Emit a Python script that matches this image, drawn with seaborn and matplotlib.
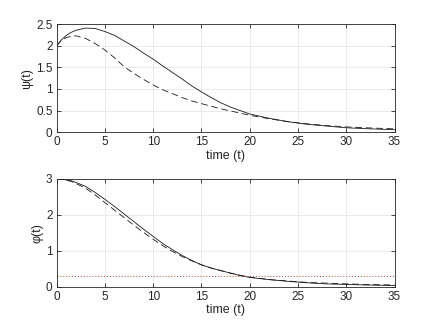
import pandas as pd
import matplotlib.pyplot as plt
import seaborn as sns

sns.set_theme(style='ticks')
plt.rcParams['font.family'] = ['Liberation Sans', 'DejaVu Sans']

# time samples
t = [0, 0.5, 1, 1.5, 2, 3, 4, 5, 6, 7, 8, 9, 10, 11, 12, 13, 14, 15,
     16, 17, 18, 19, 20, 22, 24, 26, 28, 30, 32, 35]

# psi(t): solid and dashed curves
psi_solid = [2.00, 2.14, 2.24, 2.31, 2.36, 2.41, 2.40, 2.33, 2.24, 2.11,
             1.98, 1.83, 1.69, 1.53, 1.38, 1.23, 1.07, 0.93, 0.80, 0.68,
             0.58, 0.50, 0.42, 0.32, 0.24, 0.18, 0.14, 0.10, 0.08, 0.055]
psi_dashed = [2.00, 2.13, 2.19, 2.22, 2.23, 2.17, 2.05, 1.90, 1.72, 1.51,
              1.36, 1.22, 1.09, 0.98, 0.89, 0.80, 0.72, 0.66, 0.60, 0.54,
              0.49, 0.44, 0.39, 0.31, 0.24, 0.19, 0.15, 0.12, 0.10, 0.075]

# phi(t): solid and dashed curves
phi_solid = [3.00, 2.99, 2.97, 2.95, 2.90, 2.79, 2.62, 2.43, 2.23, 2.02,
             1.81, 1.60, 1.40, 1.20, 1.03, 0.87, 0.73, 0.61, 0.52, 0.45,
             0.38, 0.31, 0.26, 0.20, 0.15, 0.11, 0.08, 0.065, 0.05, 0.035]
phi_dashed = [3.00, 2.99, 2.96, 2.93, 2.87, 2.74, 2.55, 2.34, 2.13, 1.92,
              1.71, 1.51, 1.32, 1.14, 0.98, 0.84, 0.72, 0.61, 0.52, 0.45,
              0.38, 0.32, 0.27, 0.20, 0.16, 0.12, 0.10, 0.08, 0.065, 0.05]
phi_threshold = 0.3

df = pd.DataFrame({'t': t, 'psi_s': psi_solid, 'psi_d': psi_dashed,
                   'phi_s': phi_solid, 'phi_d': phi_dashed})

fig = plt.figure(figsize=(4.36, 3.27), dpi=100)
ax1 = fig.add_axes([0.130, 0.596, 0.775, 0.330])
ax2 = fig.add_axes([0.130, 0.123, 0.775, 0.330])

dash = (0, (8, 4.5))
sns.lineplot(data=df, x='t', y='psi_s', ax=ax1, color='#1a1a1a', lw=0.6)
sns.lineplot(data=df, x='t', y='psi_d', ax=ax1, color='#1a1a1a', lw=0.6,
             linestyle=dash)
sns.lineplot(data=df, x='t', y='phi_s', ax=ax2, color='#1a1a1a', lw=0.6)
sns.lineplot(data=df, x='t', y='phi_d', ax=ax2, color='#1a1a1a', lw=0.6,
             linestyle=dash)
ax2.axhline(phi_threshold, color='#b5443b', lw=0.7, linestyle=(0, (1, 2)))

for ax, ylim, yticks, ylab in [(ax1, (0, 2.5), [0, 0.5, 1, 1.5, 2, 2.5], 'ψ(t)'),
                               (ax2, (0, 3), [0, 1, 2, 3], 'φ(t)')]:
    ax.set_xlim(0, 35)
    ax.set_ylim(*ylim)
    ax.set_xticks([0, 5, 10, 15, 20, 25, 30, 35])
    ax.set_yticks(yticks)
    ax.set_yticklabels([f'{v:g}' for v in yticks])
    ax.grid(True, color='#e6e6e6', lw=0.6)
    ax.set_axisbelow(True)
    for s in ax.spines.values():
        s.set_color('#262626')
        s.set_linewidth(0.6)
    ax.tick_params(direction='in', length=3, width=0.6, colors='#262626',
                   labelsize=8.5, top=True, right=True, pad=3)
    ax.set_xlabel('time (t)', fontsize=9, color='#262626', labelpad=1)
    ax.set_ylabel(ylab, fontsize=9, color='#262626', labelpad=2)

plt.savefig('out.png', dpi=100)
